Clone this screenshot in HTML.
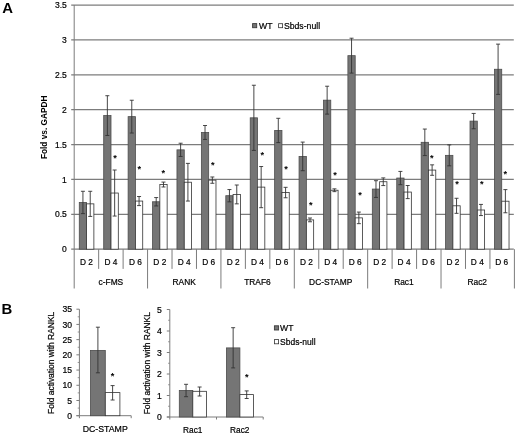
<!DOCTYPE html>
<html><head><meta charset="utf-8"><title>Figure</title>
<style>html,body{margin:0;padding:0;background:#fff}svg{display:block}</style></head>
<body>
<svg width="520" height="437" viewBox="0 0 520 437" font-family="'Liberation Sans', sans-serif" font-size="8.3" fill="#000">
<rect width="520" height="437" fill="#fff"/>
<g id="panelA">
<line x1="71.2" y1="249.20" x2="513.8" y2="249.20" stroke="#7c7c7c" stroke-width="1.25"/>
<text x="66.8" y="252.30" text-anchor="end" font-size="8.5" stroke="#000" stroke-width="0.2">0</text>
<line x1="71.2" y1="214.31" x2="513.8" y2="214.31" stroke="#7c7c7c" stroke-width="1.25"/>
<text x="66.8" y="217.41" text-anchor="end" font-size="8.5" stroke="#000" stroke-width="0.2">0.5</text>
<line x1="71.2" y1="179.43" x2="513.8" y2="179.43" stroke="#7c7c7c" stroke-width="1.25"/>
<text x="66.8" y="182.53" text-anchor="end" font-size="8.5" stroke="#000" stroke-width="0.2">1</text>
<line x1="71.2" y1="144.54" x2="513.8" y2="144.54" stroke="#7c7c7c" stroke-width="1.25"/>
<text x="66.8" y="147.64" text-anchor="end" font-size="8.5" stroke="#000" stroke-width="0.2">1.5</text>
<line x1="71.2" y1="109.66" x2="513.8" y2="109.66" stroke="#7c7c7c" stroke-width="1.25"/>
<text x="66.8" y="112.76" text-anchor="end" font-size="8.5" stroke="#000" stroke-width="0.2">2</text>
<line x1="71.2" y1="74.77" x2="513.8" y2="74.77" stroke="#7c7c7c" stroke-width="1.25"/>
<text x="66.8" y="77.87" text-anchor="end" font-size="8.5" stroke="#000" stroke-width="0.2">2.5</text>
<line x1="71.2" y1="39.89" x2="513.8" y2="39.89" stroke="#7c7c7c" stroke-width="1.25"/>
<text x="66.8" y="42.99" text-anchor="end" font-size="8.5" stroke="#000" stroke-width="0.2">3</text>
<line x1="71.2" y1="5.00" x2="513.8" y2="5.00" stroke="#7c7c7c" stroke-width="1.25"/>
<text x="66.8" y="8.10" text-anchor="end" font-size="8.5" stroke="#000" stroke-width="0.2">3.5</text>
<line x1="74.2" y1="5.0" x2="74.2" y2="288.5" stroke="#7c7c7c" stroke-width="1"/>
<line x1="98.66" y1="249.2" x2="98.66" y2="268.9" stroke="#7c7c7c" stroke-width="1"/>
<line x1="123.11" y1="249.2" x2="123.11" y2="268.9" stroke="#7c7c7c" stroke-width="1"/>
<line x1="147.57" y1="249.2" x2="147.57" y2="288.5" stroke="#7c7c7c" stroke-width="1"/>
<line x1="172.02" y1="249.2" x2="172.02" y2="268.9" stroke="#7c7c7c" stroke-width="1"/>
<line x1="196.48" y1="249.2" x2="196.48" y2="268.9" stroke="#7c7c7c" stroke-width="1"/>
<line x1="220.93" y1="249.2" x2="220.93" y2="288.5" stroke="#7c7c7c" stroke-width="1"/>
<line x1="245.39" y1="249.2" x2="245.39" y2="268.9" stroke="#7c7c7c" stroke-width="1"/>
<line x1="269.84" y1="249.2" x2="269.84" y2="268.9" stroke="#7c7c7c" stroke-width="1"/>
<line x1="294.30" y1="249.2" x2="294.30" y2="288.5" stroke="#7c7c7c" stroke-width="1"/>
<line x1="318.76" y1="249.2" x2="318.76" y2="268.9" stroke="#7c7c7c" stroke-width="1"/>
<line x1="343.21" y1="249.2" x2="343.21" y2="268.9" stroke="#7c7c7c" stroke-width="1"/>
<line x1="367.67" y1="249.2" x2="367.67" y2="288.5" stroke="#7c7c7c" stroke-width="1"/>
<line x1="392.12" y1="249.2" x2="392.12" y2="268.9" stroke="#7c7c7c" stroke-width="1"/>
<line x1="416.58" y1="249.2" x2="416.58" y2="268.9" stroke="#7c7c7c" stroke-width="1"/>
<line x1="441.03" y1="249.2" x2="441.03" y2="288.5" stroke="#7c7c7c" stroke-width="1"/>
<line x1="465.49" y1="249.2" x2="465.49" y2="268.9" stroke="#7c7c7c" stroke-width="1"/>
<line x1="489.94" y1="249.2" x2="489.94" y2="268.9" stroke="#7c7c7c" stroke-width="1"/>
<line x1="514.40" y1="249.2" x2="514.40" y2="288.5" stroke="#7c7c7c" stroke-width="1"/>
<rect x="79.28" y="202.46" width="7.30" height="46.74" fill="#757575" stroke="#4d4d4d" stroke-width="0.8"/>
<rect x="86.58" y="203.85" width="7.30" height="45.35" fill="#fff" stroke="#333" stroke-width="0.8"/>
<path d="M82.93 191.29V213.62M80.93 191.29h4M80.93 213.62h4" stroke="#333" stroke-width="0.9" fill="none"/>
<path d="M90.23 191.29V216.41M88.23 191.29h4M88.23 216.41h4" stroke="#333" stroke-width="0.9" fill="none"/>
<text x="86.43" y="265.4" text-anchor="middle" stroke="#000" stroke-width="0.2">D 2</text>
<rect x="103.70" y="115.59" width="7.30" height="133.61" fill="#757575" stroke="#4d4d4d" stroke-width="0.8"/>
<rect x="111.00" y="193.04" width="7.30" height="56.16" fill="#fff" stroke="#333" stroke-width="0.8"/>
<path d="M107.35 95.71V135.47M105.35 95.71h4M105.35 135.47h4" stroke="#333" stroke-width="0.9" fill="none"/>
<path d="M114.65 170.01V216.06M112.65 170.01h4M112.65 216.06h4" stroke="#333" stroke-width="0.9" fill="none"/>
<text x="115.0" y="161.4" text-anchor="middle" font-size="9.2" font-weight="bold">*</text>
<text x="110.88" y="265.4" text-anchor="middle" stroke="#000" stroke-width="0.2">D 4</text>
<rect x="128.12" y="116.64" width="7.30" height="132.56" fill="#757575" stroke="#4d4d4d" stroke-width="0.8"/>
<rect x="135.42" y="201.06" width="7.30" height="48.14" fill="#fff" stroke="#333" stroke-width="0.8"/>
<path d="M131.77 100.24V133.03M129.77 100.24h4M129.77 133.03h4" stroke="#333" stroke-width="0.9" fill="none"/>
<path d="M139.07 196.52V205.60M137.07 196.52h4M137.07 205.60h4" stroke="#333" stroke-width="0.9" fill="none"/>
<text x="139.3" y="171.5" text-anchor="middle" font-size="9.2" font-weight="bold">*</text>
<text x="135.34" y="265.4" text-anchor="middle" stroke="#000" stroke-width="0.2">D 6</text>
<rect x="152.54" y="201.76" width="7.30" height="47.44" fill="#757575" stroke="#4d4d4d" stroke-width="0.8"/>
<rect x="159.84" y="184.52" width="7.30" height="64.68" fill="#fff" stroke="#333" stroke-width="0.8"/>
<path d="M156.19 197.57V205.94M154.19 197.57h4M154.19 205.94h4" stroke="#333" stroke-width="0.9" fill="none"/>
<path d="M163.49 182.08V186.97M161.49 182.08h4M161.49 186.97h4" stroke="#333" stroke-width="0.9" fill="none"/>
<text x="163.4" y="175.5" text-anchor="middle" font-size="9.2" font-weight="bold">*</text>
<text x="159.79" y="265.4" text-anchor="middle" stroke="#000" stroke-width="0.2">D 2</text>
<rect x="176.96" y="149.85" width="7.30" height="99.35" fill="#757575" stroke="#4d4d4d" stroke-width="0.8"/>
<rect x="184.26" y="182.22" width="7.30" height="66.98" fill="#fff" stroke="#333" stroke-width="0.8"/>
<path d="M180.61 143.22V156.48M178.61 143.22h4M178.61 156.48h4" stroke="#333" stroke-width="0.9" fill="none"/>
<path d="M187.91 163.38V201.06M185.91 163.38h4M185.91 201.06h4" stroke="#333" stroke-width="0.9" fill="none"/>
<text x="184.25" y="265.4" text-anchor="middle" stroke="#000" stroke-width="0.2">D 4</text>
<rect x="201.38" y="132.47" width="7.30" height="116.73" fill="#757575" stroke="#4d4d4d" stroke-width="0.8"/>
<rect x="208.68" y="180.13" width="7.30" height="69.07" fill="#fff" stroke="#333" stroke-width="0.8"/>
<path d="M205.03 125.50V139.45M203.03 125.50h4M203.03 139.45h4" stroke="#333" stroke-width="0.9" fill="none"/>
<path d="M212.33 176.99V183.27M210.33 176.99h4M210.33 183.27h4" stroke="#333" stroke-width="0.9" fill="none"/>
<text x="212.9" y="167.9" text-anchor="middle" font-size="9.2" font-weight="bold">*</text>
<text x="208.68" y="265.4" text-anchor="middle" stroke="#000" stroke-width="0.2">D 6</text>
<rect x="225.80" y="195.69" width="7.30" height="53.51" fill="#757575" stroke="#4d4d4d" stroke-width="0.8"/>
<rect x="233.10" y="194.43" width="7.30" height="54.77" fill="#fff" stroke="#333" stroke-width="0.8"/>
<path d="M229.45 189.55V201.83M227.45 189.55h4M227.45 201.83h4" stroke="#333" stroke-width="0.9" fill="none"/>
<path d="M236.75 185.01V203.85M234.75 185.01h4M234.75 203.85h4" stroke="#333" stroke-width="0.9" fill="none"/>
<text x="233.10" y="265.4" text-anchor="middle" stroke="#000" stroke-width="0.2">D 2</text>
<rect x="250.22" y="117.82" width="7.30" height="131.38" fill="#757575" stroke="#4d4d4d" stroke-width="0.8"/>
<rect x="257.52" y="187.11" width="7.30" height="62.09" fill="#fff" stroke="#333" stroke-width="0.8"/>
<path d="M253.87 85.24V150.41M251.87 85.24h4M251.87 150.41h4" stroke="#333" stroke-width="0.9" fill="none"/>
<path d="M261.17 166.52V207.69M259.17 166.52h4M259.17 207.69h4" stroke="#333" stroke-width="0.9" fill="none"/>
<text x="262.3" y="158.4" text-anchor="middle" font-size="9.2" font-weight="bold">*</text>
<text x="257.52" y="265.4" text-anchor="middle" stroke="#000" stroke-width="0.2">D 4</text>
<rect x="274.64" y="130.45" width="7.30" height="118.75" fill="#757575" stroke="#4d4d4d" stroke-width="0.8"/>
<rect x="281.94" y="192.55" width="7.30" height="56.65" fill="#fff" stroke="#333" stroke-width="0.8"/>
<path d="M278.29 118.31V142.59M276.29 118.31h4M276.29 142.59h4" stroke="#333" stroke-width="0.9" fill="none"/>
<path d="M285.59 187.32V197.78M283.59 187.32h4M283.59 197.78h4" stroke="#333" stroke-width="0.9" fill="none"/>
<text x="286.0" y="171.9" text-anchor="middle" font-size="9.2" font-weight="bold">*</text>
<text x="281.94" y="265.4" text-anchor="middle" stroke="#000" stroke-width="0.2">D 6</text>
<rect x="299.06" y="156.41" width="7.30" height="92.79" fill="#757575" stroke="#4d4d4d" stroke-width="0.8"/>
<rect x="306.36" y="219.90" width="7.30" height="29.30" fill="#fff" stroke="#333" stroke-width="0.8"/>
<path d="M302.71 142.10V170.71M300.71 142.10h4M300.71 170.71h4" stroke="#333" stroke-width="0.9" fill="none"/>
<path d="M310.01 218.01V221.78M308.01 218.01h4M308.01 221.78h4" stroke="#333" stroke-width="0.9" fill="none"/>
<text x="310.9" y="207.9" text-anchor="middle" font-size="9.2" font-weight="bold">*</text>
<text x="306.36" y="265.4" text-anchor="middle" stroke="#000" stroke-width="0.2">D 2</text>
<rect x="323.48" y="100.17" width="7.30" height="149.03" fill="#757575" stroke="#4d4d4d" stroke-width="0.8"/>
<rect x="330.78" y="190.25" width="7.30" height="58.95" fill="#fff" stroke="#333" stroke-width="0.8"/>
<path d="M327.13 86.22V114.12M325.13 86.22h4M325.13 114.12h4" stroke="#333" stroke-width="0.9" fill="none"/>
<path d="M334.43 188.85V191.64M332.43 188.85h4M332.43 191.64h4" stroke="#333" stroke-width="0.9" fill="none"/>
<text x="335.0" y="177.5" text-anchor="middle" font-size="9.2" font-weight="bold">*</text>
<text x="330.78" y="265.4" text-anchor="middle" stroke="#000" stroke-width="0.2">D 4</text>
<rect x="347.90" y="55.66" width="7.30" height="193.54" fill="#757575" stroke="#4d4d4d" stroke-width="0.8"/>
<rect x="355.20" y="217.87" width="7.30" height="31.33" fill="#fff" stroke="#333" stroke-width="0.8"/>
<path d="M351.55 38.21V73.10M349.55 38.21h4M349.55 73.10h4" stroke="#333" stroke-width="0.9" fill="none"/>
<path d="M358.85 212.08V223.67M356.85 212.08h4M356.85 223.67h4" stroke="#333" stroke-width="0.9" fill="none"/>
<text x="360.1" y="197.6" text-anchor="middle" font-size="9.2" font-weight="bold">*</text>
<text x="355.20" y="265.4" text-anchor="middle" stroke="#000" stroke-width="0.2">D 6</text>
<rect x="372.32" y="189.06" width="7.30" height="60.14" fill="#757575" stroke="#4d4d4d" stroke-width="0.8"/>
<rect x="379.62" y="181.73" width="7.30" height="67.47" fill="#fff" stroke="#333" stroke-width="0.8"/>
<path d="M375.97 180.69V197.43M373.97 180.69h4M373.97 197.43h4" stroke="#333" stroke-width="0.9" fill="none"/>
<path d="M383.27 177.90V185.57M381.27 177.90h4M381.27 185.57h4" stroke="#333" stroke-width="0.9" fill="none"/>
<text x="379.62" y="265.4" text-anchor="middle" stroke="#000" stroke-width="0.2">D 2</text>
<rect x="396.74" y="178.04" width="7.30" height="71.16" fill="#757575" stroke="#4d4d4d" stroke-width="0.8"/>
<rect x="404.04" y="192.06" width="7.30" height="57.14" fill="#fff" stroke="#333" stroke-width="0.8"/>
<path d="M400.39 171.41V184.66M398.39 171.41h4M398.39 184.66h4" stroke="#333" stroke-width="0.9" fill="none"/>
<path d="M407.69 185.50V198.62M405.69 185.50h4M405.69 198.62h4" stroke="#333" stroke-width="0.9" fill="none"/>
<text x="404.04" y="265.4" text-anchor="middle" stroke="#000" stroke-width="0.2">D 4</text>
<rect x="421.17" y="142.31" width="7.30" height="106.89" fill="#757575" stroke="#4d4d4d" stroke-width="0.8"/>
<rect x="428.47" y="170.08" width="7.30" height="79.12" fill="#fff" stroke="#333" stroke-width="0.8"/>
<path d="M424.82 129.06V155.57M422.82 129.06h4M422.82 155.57h4" stroke="#333" stroke-width="0.9" fill="none"/>
<path d="M432.12 164.85V175.31M430.12 164.85h4M430.12 175.31h4" stroke="#333" stroke-width="0.9" fill="none"/>
<text x="431.7" y="160.9" text-anchor="middle" font-size="9.2" font-weight="bold">*</text>
<text x="428.47" y="265.4" text-anchor="middle" stroke="#000" stroke-width="0.2">D 6</text>
<rect x="445.59" y="155.36" width="7.30" height="93.84" fill="#757575" stroke="#4d4d4d" stroke-width="0.8"/>
<rect x="452.89" y="205.80" width="7.30" height="43.40" fill="#fff" stroke="#333" stroke-width="0.8"/>
<path d="M449.24 144.89V165.83M447.24 144.89h4M447.24 165.83h4" stroke="#333" stroke-width="0.9" fill="none"/>
<path d="M456.54 198.27V213.34M454.54 198.27h4M454.54 213.34h4" stroke="#333" stroke-width="0.9" fill="none"/>
<text x="457.1" y="186.9" text-anchor="middle" font-size="9.2" font-weight="bold">*</text>
<text x="452.89" y="265.4" text-anchor="middle" stroke="#000" stroke-width="0.2">D 2</text>
<rect x="470.01" y="121.10" width="7.30" height="128.10" fill="#757575" stroke="#4d4d4d" stroke-width="0.8"/>
<rect x="477.31" y="209.99" width="7.30" height="39.21" fill="#fff" stroke="#333" stroke-width="0.8"/>
<path d="M473.66 113.43V128.78M471.66 113.43h4M471.66 128.78h4" stroke="#333" stroke-width="0.9" fill="none"/>
<path d="M480.96 204.41V215.57M478.96 204.41h4M478.96 215.57h4" stroke="#333" stroke-width="0.9" fill="none"/>
<text x="481.8" y="186.9" text-anchor="middle" font-size="9.2" font-weight="bold">*</text>
<text x="477.31" y="265.4" text-anchor="middle" stroke="#000" stroke-width="0.2">D 4</text>
<rect x="494.43" y="69.26" width="7.30" height="179.94" fill="#757575" stroke="#4d4d4d" stroke-width="0.8"/>
<rect x="501.73" y="201.20" width="7.30" height="48.00" fill="#fff" stroke="#333" stroke-width="0.8"/>
<path d="M498.08 44.14V94.38M496.08 44.14h4M496.08 94.38h4" stroke="#333" stroke-width="0.9" fill="none"/>
<path d="M505.38 189.62V212.78M503.38 189.62h4M503.38 212.78h4" stroke="#333" stroke-width="0.9" fill="none"/>
<text x="505.2" y="177.4" text-anchor="middle" font-size="9.2" font-weight="bold">*</text>
<text x="501.73" y="265.4" text-anchor="middle" stroke="#000" stroke-width="0.2">D 6</text>
<text x="110.88" y="285" text-anchor="middle" font-size="8.4" stroke="#000" stroke-width="0.2">c-FMS</text>
<text x="184.15" y="285" text-anchor="middle" font-size="8.4" stroke="#000" stroke-width="0.2">RANK</text>
<text x="257.42" y="285" text-anchor="middle" font-size="8.4" stroke="#000" stroke-width="0.2">TRAF6</text>
<text x="330.68" y="285" text-anchor="middle" font-size="8.4" stroke="#000" stroke-width="0.2">DC-STAMP</text>
<text x="403.95" y="285" text-anchor="middle" font-size="8.4" stroke="#000" stroke-width="0.2">Rac1</text>
<text x="477.22" y="285" text-anchor="middle" font-size="8.4" stroke="#000" stroke-width="0.2">Rac2</text>
<rect x="252.6" y="23.6" width="4.1" height="4.1" fill="#757575" stroke="#3a3a3a" stroke-width="0.9"/>
<text x="259.0" y="28.5" font-size="8.7" stroke="#000" stroke-width="0.2">WT</text>
<rect x="278.6" y="23.7" width="4" height="4" fill="#fff" stroke="#333" stroke-width="0.8"/>
<text x="283.9" y="28.5" font-size="8.7" stroke="#000" stroke-width="0.2">Sbds-null</text>
<text transform="translate(47.4,127.3) rotate(-90)" text-anchor="middle" font-weight="bold" font-size="8.3">Fold vs. GAPDH</text>
<text x="2.2" y="13.3" font-weight="bold" font-size="14.9">A</text>
</g>
<g id="panelB">
<text x="1.6" y="314.2" font-weight="bold" font-size="14.9">B</text>
<path d="M79.4 309.2V415.7" stroke="#7c7c7c" stroke-width="1" fill="none"/>
<path d="M76.4 415.7H131.2" stroke="#7c7c7c" stroke-width="1" fill="none"/>
<line x1="79.4" y1="415.70" x2="79.4" y2="418.20" stroke="#7c7c7c" stroke-width="1"/>
<line x1="131.2" y1="415.70" x2="131.2" y2="418.20" stroke="#7c7c7c" stroke-width="1"/>
<line x1="76.4" y1="415.70" x2="79.4" y2="415.70" stroke="#7c7c7c" stroke-width="1"/>
<line x1="77.7" y1="408.09" x2="79.4" y2="408.09" stroke="#7c7c7c" stroke-width="0.8"/>
<text x="72.0" y="418.80" text-anchor="end" font-size="8.6" stroke="#000" stroke-width="0.2">0</text>
<line x1="76.4" y1="400.49" x2="79.4" y2="400.49" stroke="#7c7c7c" stroke-width="1"/>
<line x1="77.7" y1="392.88" x2="79.4" y2="392.88" stroke="#7c7c7c" stroke-width="0.8"/>
<text x="72.0" y="403.59" text-anchor="end" font-size="8.6" stroke="#000" stroke-width="0.2">5</text>
<line x1="76.4" y1="385.27" x2="79.4" y2="385.27" stroke="#7c7c7c" stroke-width="1"/>
<line x1="77.7" y1="377.66" x2="79.4" y2="377.66" stroke="#7c7c7c" stroke-width="0.8"/>
<text x="72.0" y="388.37" text-anchor="end" font-size="8.6" stroke="#000" stroke-width="0.2">10</text>
<line x1="76.4" y1="370.06" x2="79.4" y2="370.06" stroke="#7c7c7c" stroke-width="1"/>
<line x1="77.7" y1="362.45" x2="79.4" y2="362.45" stroke="#7c7c7c" stroke-width="0.8"/>
<text x="72.0" y="373.16" text-anchor="end" font-size="8.6" stroke="#000" stroke-width="0.2">15</text>
<line x1="76.4" y1="354.84" x2="79.4" y2="354.84" stroke="#7c7c7c" stroke-width="1"/>
<line x1="77.7" y1="347.24" x2="79.4" y2="347.24" stroke="#7c7c7c" stroke-width="0.8"/>
<text x="72.0" y="357.94" text-anchor="end" font-size="8.6" stroke="#000" stroke-width="0.2">20</text>
<line x1="76.4" y1="339.63" x2="79.4" y2="339.63" stroke="#7c7c7c" stroke-width="1"/>
<line x1="77.7" y1="332.02" x2="79.4" y2="332.02" stroke="#7c7c7c" stroke-width="0.8"/>
<text x="72.0" y="342.73" text-anchor="end" font-size="8.6" stroke="#000" stroke-width="0.2">25</text>
<line x1="76.4" y1="324.41" x2="79.4" y2="324.41" stroke="#7c7c7c" stroke-width="1"/>
<line x1="77.7" y1="316.81" x2="79.4" y2="316.81" stroke="#7c7c7c" stroke-width="0.8"/>
<text x="72.0" y="327.51" text-anchor="end" font-size="8.6" stroke="#000" stroke-width="0.2">30</text>
<line x1="76.4" y1="309.20" x2="79.4" y2="309.20" stroke="#7c7c7c" stroke-width="1"/>
<text x="72.0" y="312.30" text-anchor="end" font-size="8.6" stroke="#000" stroke-width="0.2">35</text>
<rect x="90.50" y="350.40" width="14.80" height="65.30" fill="#757575" stroke="#4d4d4d" stroke-width="0.8"/>
<path d="M97.90 327.20V372.80M95.90 327.20h4M95.90 372.80h4" stroke="#333" stroke-width="0.9" fill="none"/>
<rect x="105.30" y="392.60" width="14.60" height="23.10" fill="#fff" stroke="#333" stroke-width="0.8"/>
<path d="M112.60 385.60V400.00M110.60 385.60h4M110.60 400.00h4" stroke="#333" stroke-width="0.9" fill="none"/>
<text x="105.2" y="431.7" text-anchor="middle" font-size="8.75" stroke="#000" stroke-width="0.2">DC-STAMP</text>
<text transform="translate(54.3,362.9) rotate(-90)" text-anchor="middle" font-size="8.45" stroke="#000" stroke-width="0.2">Fold activation with RANKL</text>
<text x="112.6" y="379.2" text-anchor="middle" font-size="9.2" font-weight="bold">*</text>
<path d="M169.8 309.5V417.0" stroke="#7c7c7c" stroke-width="1" fill="none"/>
<path d="M166.8 417.0H263.2" stroke="#7c7c7c" stroke-width="1" fill="none"/>
<line x1="169.8" y1="417.00" x2="169.8" y2="419.50" stroke="#7c7c7c" stroke-width="1"/>
<line x1="216.5" y1="417.00" x2="216.5" y2="419.50" stroke="#7c7c7c" stroke-width="1"/>
<line x1="263.2" y1="417.00" x2="263.2" y2="419.50" stroke="#7c7c7c" stroke-width="1"/>
<line x1="166.8" y1="417.00" x2="169.8" y2="417.00" stroke="#7c7c7c" stroke-width="1"/>
<line x1="168.1" y1="406.25" x2="169.8" y2="406.25" stroke="#7c7c7c" stroke-width="0.8"/>
<text x="161.9" y="420.10" text-anchor="end" font-size="8.6" stroke="#000" stroke-width="0.2">0</text>
<line x1="166.8" y1="395.50" x2="169.8" y2="395.50" stroke="#7c7c7c" stroke-width="1"/>
<line x1="168.1" y1="384.75" x2="169.8" y2="384.75" stroke="#7c7c7c" stroke-width="0.8"/>
<text x="161.9" y="398.60" text-anchor="end" font-size="8.6" stroke="#000" stroke-width="0.2">1</text>
<line x1="166.8" y1="374.00" x2="169.8" y2="374.00" stroke="#7c7c7c" stroke-width="1"/>
<line x1="168.1" y1="363.25" x2="169.8" y2="363.25" stroke="#7c7c7c" stroke-width="0.8"/>
<text x="161.9" y="377.10" text-anchor="end" font-size="8.6" stroke="#000" stroke-width="0.2">2</text>
<line x1="166.8" y1="352.50" x2="169.8" y2="352.50" stroke="#7c7c7c" stroke-width="1"/>
<line x1="168.1" y1="341.75" x2="169.8" y2="341.75" stroke="#7c7c7c" stroke-width="0.8"/>
<text x="161.9" y="355.60" text-anchor="end" font-size="8.6" stroke="#000" stroke-width="0.2">3</text>
<line x1="166.8" y1="331.00" x2="169.8" y2="331.00" stroke="#7c7c7c" stroke-width="1"/>
<line x1="168.1" y1="320.25" x2="169.8" y2="320.25" stroke="#7c7c7c" stroke-width="0.8"/>
<text x="161.9" y="334.10" text-anchor="end" font-size="8.6" stroke="#000" stroke-width="0.2">4</text>
<line x1="166.8" y1="309.50" x2="169.8" y2="309.50" stroke="#7c7c7c" stroke-width="1"/>
<text x="161.9" y="312.60" text-anchor="end" font-size="8.6" stroke="#000" stroke-width="0.2">5</text>
<rect x="179.30" y="390.40" width="13.50" height="26.60" fill="#757575" stroke="#4d4d4d" stroke-width="0.8"/>
<path d="M186.05 384.30V396.70M184.05 384.30h4M184.05 396.70h4" stroke="#333" stroke-width="0.9" fill="none"/>
<rect x="192.80" y="391.30" width="13.60" height="25.70" fill="#fff" stroke="#333" stroke-width="0.8"/>
<path d="M199.60 387.00V396.00M197.60 387.00h4M197.60 396.00h4" stroke="#333" stroke-width="0.9" fill="none"/>
<rect x="226.40" y="347.90" width="13.50" height="69.10" fill="#757575" stroke="#4d4d4d" stroke-width="0.8"/>
<path d="M233.15 327.70V367.90M231.15 327.70h4M231.15 367.90h4" stroke="#333" stroke-width="0.9" fill="none"/>
<rect x="239.90" y="394.60" width="13.60" height="22.40" fill="#fff" stroke="#333" stroke-width="0.8"/>
<path d="M246.70 390.90V398.50M244.70 390.90h4M244.70 398.50h4" stroke="#333" stroke-width="0.9" fill="none"/>
<text x="192.8" y="433.0" text-anchor="middle" font-size="8.3" stroke="#000" stroke-width="0.2">Rac1</text>
<text x="239.8" y="433.0" text-anchor="middle" font-size="8.3" stroke="#000" stroke-width="0.2">Rac2</text>
<text transform="translate(149.7,363.2) rotate(-90)" text-anchor="middle" font-size="8.45" stroke="#000" stroke-width="0.2">Fold activation with RANKL</text>
<text x="246.7" y="380.1" text-anchor="middle" font-size="9.2" font-weight="bold">*</text>
<rect x="274.4" y="325.8" width="4.2" height="4.2" fill="#757575" stroke="#3a3a3a" stroke-width="0.9"/>
<text x="280.1" y="330.5" font-size="8.6" stroke="#000" stroke-width="0.2">WT</text>
<rect x="274.4" y="339.6" width="4.2" height="4.2" fill="#fff" stroke="#333" stroke-width="0.8"/>
<text x="280.1" y="344.6" font-size="8.5" stroke="#000" stroke-width="0.2">Sbds-null</text>
</g>
</svg>
</body></html>
